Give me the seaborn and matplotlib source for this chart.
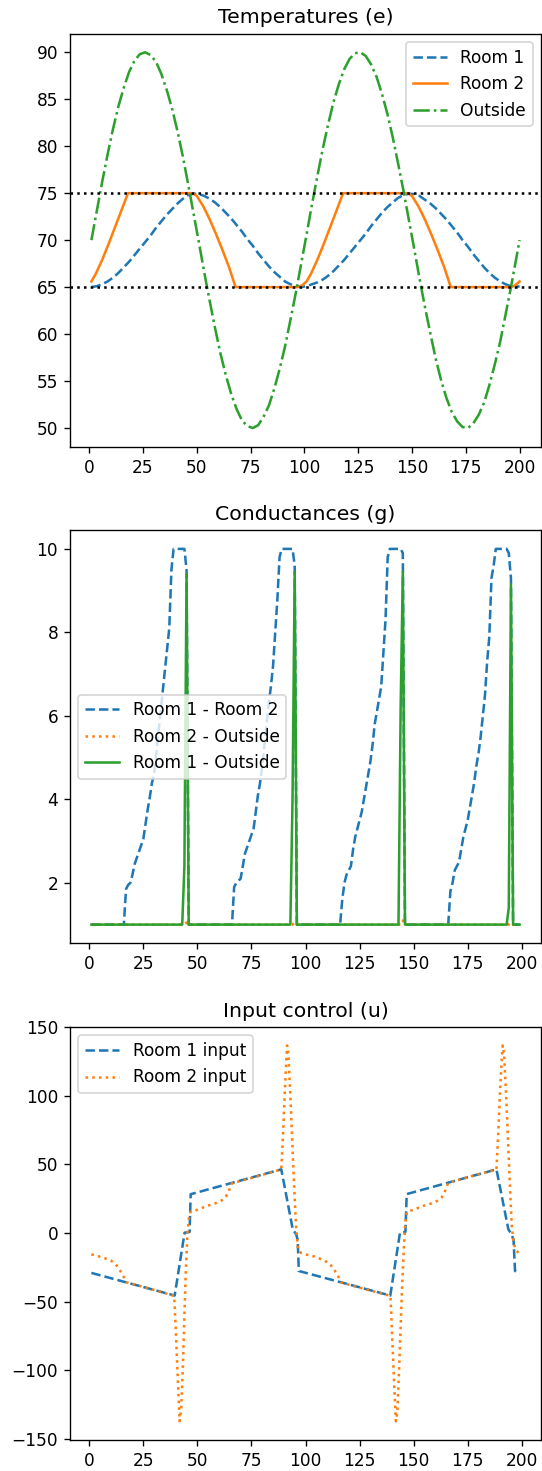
import matplotlib
matplotlib.use("Agg")
import matplotlib.pyplot as plt
import seaborn as sns

# ---- Temperatures (e) ----
t_out = [1, 3.5, 6, 8.5, 11, 13.5, 16, 18.5, 21, 23.5, 26, 28.5, 31, 33.5, 36, 38.5, 41,
         43.5, 46, 48.5, 51, 53.5, 56, 58.5, 61, 63.5, 66, 68.5, 71, 73.5, 76, 78.5, 81,
         83.5, 86, 88.5, 91, 93.5, 96, 98.5, 101, 103.5, 106, 108.5, 111, 113.5, 116,
         118.5, 121, 123.5, 126, 128.5, 131, 133.5, 136, 138.5, 141, 143.5, 146, 148.5,
         151, 153.5, 156, 158.5, 161, 163.5, 166, 168.5, 171, 173.5, 176, 178.5, 181,
         183.5, 186, 188.5, 191, 193.5, 196, 198, 200]
outside = [70.0, 73.1, 76.2, 79.1, 81.8, 84.2, 86.2, 87.9, 89.1, 89.8, 90.0, 89.7, 89.0,
           87.7, 86.0, 84.0, 81.6, 78.9, 75.9, 72.8, 69.7, 66.5, 63.5, 60.6, 57.9, 55.6,
           53.6, 52.0, 50.8, 50.2, 50.0, 50.3, 51.2, 52.4, 54.2, 56.3, 58.7, 61.5, 64.4,
           67.5, 70.6, 73.8, 76.8, 79.7, 82.3, 84.7, 86.6, 88.2, 89.3, 89.9, 90.0, 89.6,
           88.7, 87.4, 85.6, 83.5, 81.0, 78.2, 75.3, 72.2, 69.1, 65.9, 62.9, 60.1, 57.4,
           55.1, 53.2, 51.7, 50.7, 50.1, 50.0, 50.5, 51.4, 52.7, 54.6, 56.8, 59.2, 62.1,
           65.0, 67.5, 70.0]
room1 = [65.0, 65.1, 65.3, 65.6, 66.0, 66.5, 67.1, 67.7, 68.4, 69.1, 69.8, 70.5, 71.3,
         72.0, 72.7, 73.3, 73.9, 74.4, 74.8, 74.95, 74.9, 74.7, 74.4, 74.0, 73.5, 72.9,
         72.3, 71.6, 70.9, 70.1, 69.4, 68.6, 67.9, 67.2, 66.6, 66.1, 65.6, 65.3, 65.1,
         65.0, 65.1, 65.3, 65.5, 65.8, 66.2, 66.7, 67.3, 67.9, 68.6, 69.3, 70.0, 70.7,
         71.5, 72.2, 72.9, 73.5, 74.0, 74.5, 74.8, 74.95, 74.9, 74.7, 74.3, 73.9, 73.4,
         72.8, 72.2, 71.5, 70.8, 70.0, 69.3, 68.5, 67.8, 67.1, 66.5, 66.0, 65.6, 65.3,
         65.1, 65.0, 65.1]
t_room2 = [1, 3, 6, 9, 12, 15, 18, 48, 50, 53, 56, 59, 62, 65, 68, 97, 99, 101, 103, 106,
           109, 112, 115, 118, 148, 150, 153, 156, 159, 162, 165, 168, 196, 198, 200]
room2 = [65.6, 66.4, 67.9, 69.6, 71.4, 73.2, 75.0, 75.0, 74.7, 73.6, 72.2, 70.6, 68.9,
         67.1, 65.0, 65.0, 65.2, 65.6, 66.4, 67.9, 69.6, 71.4, 73.2, 75.0, 75.0, 74.7,
         73.6, 72.2, 70.6, 68.9, 67.1, 65.0, 65.0, 65.2, 65.6]
bounds = [75, 65]

# ---- Conductances (g) ----
t_g12 = [1, 16, 17, 18, 19, 20, 21, 22, 23, 24, 25, 26, 27, 28, 29, 30, 31, 32, 33, 34,
         35, 36, 37, 38, 39, 44, 45, 46,
         66, 67, 68, 69, 70, 71, 72, 73, 74, 75, 76, 77, 78, 79, 80, 81, 82, 83, 84, 85,
         86, 87, 88, 89, 94, 95, 96,
         116, 117, 118, 119, 120, 121, 122, 123, 124, 125, 126, 127, 128, 129, 130, 131,
         132, 133, 134, 135, 136, 137, 138, 139, 144, 145, 146,
         166, 167, 168, 169, 170, 171, 172, 173, 174, 175, 176, 177, 178, 179, 180, 181,
         182, 183, 184, 185, 186, 187, 188, 193, 194, 195, 196, 199]
g12 = [1.0, 1.0, 1.85, 1.95, 2.0, 2.2, 2.45, 2.6, 2.75, 2.9, 3.05, 3.4, 3.75, 4.05, 4.4,
       4.6, 5.1, 5.6, 6.1, 6.6, 7.1, 7.6, 8.1, 9.5, 10.0, 10.0, 9.5, 1.0,
       1.0, 1.9, 2.0, 2.05, 2.1, 2.4, 2.7, 2.85, 3.0, 3.15, 3.3, 3.7, 4.1, 4.4, 4.8, 5.3,
       5.8, 6.3, 6.7, 7.2, 8.0, 8.8, 9.8, 10.0, 10.0, 9.6, 1.0,
       1.0, 1.6, 2.0, 2.2, 2.3, 2.4, 2.8, 3.1, 3.3, 3.5, 3.7, 4.0, 4.3, 4.6, 4.9, 5.3,
       5.8, 6.1, 6.4, 6.7, 7.5, 8.3, 9.8, 10.0, 10.0, 9.9, 1.0,
       1.0, 1.8, 2.0, 2.3, 2.4, 2.5, 2.8, 3.1, 3.3, 3.5, 3.8, 4.1, 4.4, 4.8, 5.1, 5.5,
       6.0, 6.5, 7.3, 7.9, 9.3, 9.6, 10.0, 10.0, 9.9, 9.3, 1.0, 1.0]
t_g2o = [1, 44, 45, 46, 94, 95, 96, 144, 145, 146, 194, 195, 196, 199]
g2o = [1.0, 1.0, 1.05, 1.0, 1.0, 1.05, 1.0, 1.0, 1.1, 1.0, 1.0, 1.05, 1.0, 1.0]
t_g1o = [1, 43, 44, 45, 46, 93, 94, 95, 96, 143, 144, 145, 146, 193, 194, 195, 196, 199]
g1o = [1.0, 1.0, 2.4, 9.4, 1.0, 1.0, 4.0, 9.45, 1.0, 1.0, 6.2, 9.45, 1.0, 1.0, 1.4,
       9.15, 1.0, 1.0]

# ---- Input control (u) ----
t_u1 = [1, 39.5, 44.1, 46.4, 46.9, 88.8, 94.1, 95.7, 96.4, 96.9, 139.2, 143.7, 146.2,
        146.8, 188.3, 193.8, 195.3, 196.2, 196.9, 199]
u1 = [-29.0, -45.5, 0.3, 0.8, 28.3, 46.4, 2.8, -1.0, -5.0, -27.6, -45.5, 0.3, 0.8, 28.4,
      46.4, 2.8, -1.0, -5.0, -27.6, -29.5]
t_u2 = [1, 4, 7, 10, 12, 14, 16, 17.2, 28, 39.3, 40, 41, 41.8, 42.5, 43.3, 43.9, 44.6,
        45.4, 46.0, 46.8, 50, 54.5, 58, 61, 63, 64.5, 66, 77, 88.8, 89.7, 90.5, 91.1,
        91.5, 92.1, 93, 94, 95, 95.7, 96.5, 98, 100, 104, 108, 111, 113, 115, 116.5, 128,
        139.3, 140, 141, 141.8, 142.5, 143.3, 144, 144.7, 145.5, 146.2, 146.9, 150, 154.5,
        158, 161, 163, 164.5, 166, 177, 188.3, 189.2, 190, 190.7, 191.2, 191.8, 192.8,
        193.8, 194.8, 195.4, 196.3, 197.5, 199]
u2 = [-15.5, -16.8, -18.2, -20.0, -22.3, -26.5, -32.0, -35.8, -40.5, -45.7, -70, -108,
      -137, -128, -97, -65, -30, 0, 10, 15.5, 17, 19.8, 21.5, 23.5, 26, 30.5, 36.3, 41,
      46.4, 75, 105, 125, 136.6, 130, 100, 62, 25, 3, -12, -14.5, -15.5, -17, -19.5, -22,
      -26, -31, -36, -41, -45.7, -72, -110, -137, -130, -98, -68, -38, -10, 8, 15.5, 17,
      19.8, 21.5, 23.5, 26, 30.5, 36.7, 41.5, 46.4, 75, 105, 125, 136.6, 131, 100, 62, 25,
      5, -8, -12.5, -15.5]

DPI = 122
fig, axes = plt.subplots(3, 1, figsize=(542 / DPI, 1471 / DPI), dpi=DPI)
fig.subplots_adjust(left=70 / 542, right=541 / 542, top=1 - 33.5 / 1471,
                    bottom=1 - 1440 / 1471, hspace=0.2016)

# Temperatures
ax = axes[0]
sns.lineplot(x=t_out, y=room1, ax=ax, color="C0", linestyle="--", label="Room 1", errorbar=None)
sns.lineplot(x=t_room2, y=room2, ax=ax, color="C1", linestyle="-", label="Room 2", errorbar=None)
sns.lineplot(x=t_out, y=outside, ax=ax, color="C2", linestyle="-.", label="Outside", errorbar=None)
for b in bounds:
    ax.axhline(b, color="k", linestyle=":")
ax.set_title("Temperatures (e)")
ax.legend(loc="upper right")

# Conductances
ax = axes[1]
sns.lineplot(x=t_g12, y=g12, ax=ax, color="C0", linestyle="--", label="Room 1 - Room 2", errorbar=None)
sns.lineplot(x=t_g2o, y=g2o, ax=ax, color="C1", linestyle=":", label="Room 2 - Outside", errorbar=None)
sns.lineplot(x=t_g1o, y=g1o, ax=ax, color="C2", linestyle="-", label="Room 1 - Outside", errorbar=None)
ax.set_title("Conductances (g)")
ax.legend(loc="center left")

# Input control
ax = axes[2]
sns.lineplot(x=t_u1, y=u1, ax=ax, color="C0", linestyle="--", label="Room 1 input", errorbar=None)
sns.lineplot(x=t_u2, y=u2, ax=ax, color="C1", linestyle=":", label="Room 2 input", errorbar=None)
ax.set_title("Input control (u)")
ax.legend(loc="upper left")

for ax in axes:
    ax.set_xticks([0, 25, 50, 75, 100, 125, 150, 175, 200])

fig.savefig("out.png", dpi=DPI)
